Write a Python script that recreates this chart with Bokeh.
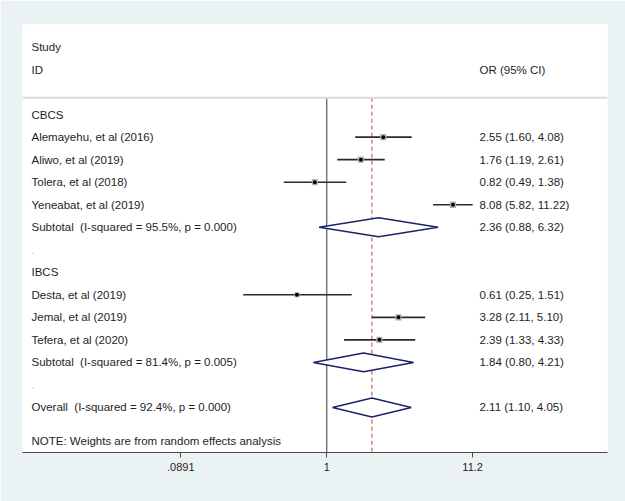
import math
from bokeh.plotting import figure
from bokeh.models import (Range1d, FixedTicker, CustomJSTickFormatter, LogAxis,
                          ColumnDataSource, Span, LinearScale)
from bokeh.core.properties import value
from bokeh.embed import file_html
from bokeh.resources import INLINE

# ---------------- data ----------------
groups = ["CBCS", "IBCS"]
study_names = ["Alemayehu, et al (2016)", "Aliwo, et al (2019)", "Tolera, et al (2018)",
               "Yeneabat, et al (2019)", "Desta, et al (2019)", "Jemal, et al (2019)",
               "Tefera, et al (2020)"]
study_group = ["CBCS", "CBCS", "CBCS", "CBCS", "IBCS", "IBCS", "IBCS"]
study_or = [2.55, 1.76, 0.82, 8.08, 0.61, 3.28, 2.39]
study_lo = [1.60, 1.19, 0.49, 5.82, 0.25, 2.11, 1.33]
study_hi = [4.08, 2.61, 1.38, 11.22, 1.51, 5.10, 4.33]
study_weight = [14.4, 14.9, 14.3, 15.2, 9.5, 14.8, 13.6]

subtotal_or = [2.36, 1.84]
subtotal_lo = [0.88, 0.80]
subtotal_hi = [6.32, 4.21]
subtotal_i2 = [95.5, 81.4]
subtotal_p = [0.000, 0.005]

overall_or = 2.11
overall_lo = 1.10
overall_hi = 4.05
overall_i2 = 92.4
overall_p = 0.000

tick_values = [0.0891, 1, 11.2]
tick_labels = [".0891", "1", "11.2"]

note_text = "NOTE: Weights are from random effects analysis"

# ---------------- layout ----------------
FRAME_W, FRAME_H = 585, 428
PX_PER_DEC = 139.0
ONE_PX = 304.3          # pixel position of OR = 1 inside the frame
x_lo = 10 ** (-ONE_PX / PX_PER_DEC)
x_hi = 10 ** ((FRAME_W - ONE_PX) / PX_PER_DEC)

FONT = "Liberation Sans"
TXT = "#1e1e1e"
NAVY = "#1d2368"
RED = "#b8433c"

p = figure(frame_width=FRAME_W, frame_height=FRAME_H,
           x_axis_type="log", x_range=Range1d(x_lo, x_hi),
           y_range=Range1d(18.0, -1.0),
           y_axis_location=None, x_axis_location=None,
           output_backend="svg", toolbar_location=None,
           min_border_left=22, min_border_right=18, min_border_top=24, min_border_bottom=49)
p.border_fill_color = "#EAF2F3"
p.background_fill_color = "white"
p.outline_line_color = None
p.xgrid.visible = False
p.ygrid.visible = False
p.extra_x_ranges = {"px": Range1d(0, FRAME_W)}
p.extra_x_scales = {"px": LinearScale()}

# ---------------- rows ----------------
left_txt, left_y, left_col = [], [], []
right_txt, right_y = [], []

def add_left(t, y, c=TXT):
    left_txt.append(t); left_y.append(y); left_col.append(c)

add_left("Study", 0)
add_left("ID", 1)
right_txt.append("OR (95% CI)"); right_y.append(1)

st_rows = []
sub_rows = []
row = 3
for gi, g in enumerate(groups):
    add_left(g, row); row += 1
    for i, name in enumerate(study_names):
        if study_group[i] != g:
            continue
        add_left(name, row)
        right_txt.append(f"{study_or[i]:.2f} ({study_lo[i]:.2f}, {study_hi[i]:.2f})")
        right_y.append(row)
        st_rows.append((i, row))
        row += 1
    add_left(f"Subtotal\u00a0 (I-squared = {subtotal_i2[gi]:.1f}%, p = {subtotal_p[gi]:.3f})", row)
    right_txt.append(f"{subtotal_or[gi]:.2f} ({subtotal_lo[gi]:.2f}, {subtotal_hi[gi]:.2f})")
    right_y.append(row)
    sub_rows.append((subtotal_or[gi], subtotal_lo[gi], subtotal_hi[gi], row))
    row += 1
    add_left(".", row, "#b8b8b8"); row += 1
add_left(f"Overall\u00a0 (I-squared = {overall_i2:.1f}%, p = {overall_p:.3f})", row)
right_txt.append(f"{overall_or:.2f} ({overall_lo:.2f}, {overall_hi:.2f})")
right_y.append(row)
sub_rows.append((overall_or, overall_lo, overall_hi, row))
add_left(note_text, row + 1.5)

SEP_Y = 2.25

# header separator
p.add_layout(Span(location=SEP_Y, dimension="width", line_color="#d9d9d9", line_width=2))

# null line and overall line
p.segment(x0=[1], x1=[1], y0=[SEP_Y], y1=[18.0], line_color="#3a3a3a", line_width=1)
p.segment(x0=[overall_or], x1=[overall_or], y0=[SEP_Y], y1=[18.0],
          line_color=RED, line_width=1, line_dash="4 3")

# study CIs and boxes
ci = ColumnDataSource(dict(
    lo=[study_lo[i] for i, r in st_rows], hi=[study_hi[i] for i, r in st_rows],
    est=[study_or[i] for i, r in st_rows], y=[r for i, r in st_rows],
    sz=[1.65 * math.sqrt(study_weight[i]) for i, r in st_rows]))
p.segment(x0="lo", x1="hi", y0="y", y1="y", source=ci, line_color="#2a2a2a", line_width=1.6)
p.scatter(x="est", y="y", size="sz", marker="square", source=ci,
          fill_color="#b4b4b4", line_color=None)
p.scatter(x="est", y="y", size=4, marker="circle", source=ci,
          fill_color="black", line_color=None)

# diamonds
H = 0.42
xs, ys = [], []
for est, lo, hi, r in sub_rows:
    xs.append([lo, est, hi, est])
    ys.append([r, r - H, r, r + H])
p.patches(xs=xs, ys=ys, fill_color="white", line_color=NAVY, line_width=1.5)

# texts
p.text(x=[9] * len(left_txt), y=left_y, text=left_txt, x_range_name="px",
       text_font=value(FONT), text_font_size=value("11.5px"), text_color=left_col,
       text_baseline="middle", text_align="left")
p.text(x=[457] * len(right_txt), y=right_y, text=right_txt, x_range_name="px",
       text_font=value(FONT), text_font_size=value("11.5px"), text_color=TXT,
       text_baseline="middle", text_align="left")

# x axis
ax = LogAxis(ticker=FixedTicker(ticks=tick_values, minor_ticks=[]),
             formatter=CustomJSTickFormatter(args=dict(vals=tick_values, labels=tick_labels), code="""
for (let i = 0; i < vals.length; i++) {
  if (Math.abs(vals[i] - tick) < 1e-6 * Math.max(1, Math.abs(tick))) return labels[i];
}
return '';
"""))
ax.axis_line_color = "#4a4a4a"
ax.major_tick_line_color = "#4a4a4a"
ax.major_tick_out = 5
ax.major_tick_in = 0
ax.major_label_text_font = FONT
ax.major_label_text_font_size = "11px"
ax.major_label_text_color = TXT
ax.major_label_standoff = 5
p.add_layout(ax, "below")

open("out.html", "w").write(file_html(p, INLINE))
